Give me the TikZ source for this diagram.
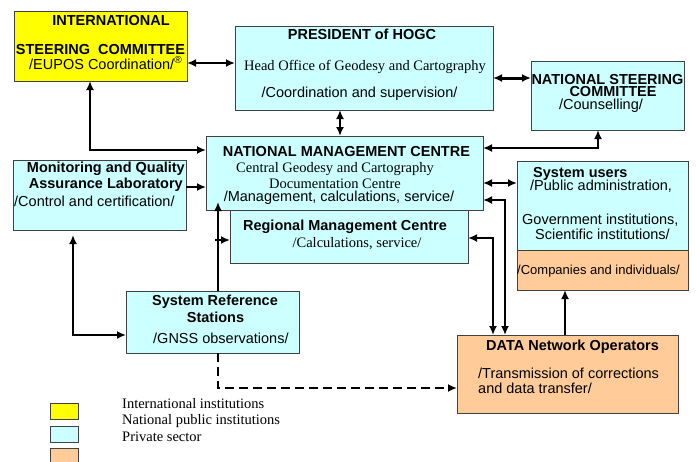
\documentclass[tikz,border=0pt]{standalone}
\usepackage{fontspec}
\setmainfont{Liberation Serif}
\setsansfont{Liberation Sans}
\usetikzlibrary{arrows.meta}
\definecolor{yel}{HTML}{FFFF00}
\definecolor{cya}{HTML}{CCFFFF}
\definecolor{ora}{HTML}{FFCC99}
\definecolor{brd}{HTML}{404040}
\newcommand\fsz{\fontsize{14.5pt}{17pt}\selectfont}
\begin{document}
\begin{tikzpicture}[x=1pt,y=-1pt,
 box/.style={draw=brd, line width=1pt, inner sep=0, outer sep=0, anchor=north west},
 bf/.style={inner sep=0, font=\sffamily\bfseries\fsz},
 sf/.style={inner sep=0, font=\sffamily\fsz},
 rm/.style={inner sep=0, font=\rmfamily\fsz},
 conn/.style={line width=1.8pt, black},
 arr/.style={conn, -{Latex[length=9pt,width=8pt]}},
 dbl/.style={conn, {Latex[length=9pt,width=8pt]}-{Latex[length=9pt,width=8pt]}},
]
\useasboundingbox (0,0) rectangle (696,461);

% boxes
\node[box, fill=yel, minimum width=173, minimum height=70] (intl) at (14,11) {};
\node[box, fill=cya, minimum width=258, minimum height=84] (pres) at (235,26) {};
\node[box, fill=cya, minimum width=153, minimum height=69] (nsc) at (531,61) {};
\node[box, fill=cya, minimum width=238, minimum height=63] (reg) at (230,200) {};
\node[box, fill=cya, minimum width=277, minimum height=74] (nmc) at (206,136) {};
\node[box, fill=cya, minimum width=173, minimum height=70] (mon) at (13,160) {};
\node[box, fill=cya, minimum width=171, minimum height=89] (su) at (517,161) {};
\node[box, fill=ora, minimum width=171, minimum height=40] (suo) at (517,250) {};
\node[box, fill=cya, minimum width=173, minimum height=62] (srs) at (126,291) {};
\node[box, fill=ora, minimum width=221, minimum height=78] (dno) at (457,335) {};
\node[box, fill=yel, minimum width=28, minimum height=16] (lg1) at (50,403) {};
\node[box, fill=cya, minimum width=28, minimum height=16] (lg2) at (50,426) {};
\node[box, fill=ora, minimum width=28, minimum height=16] (lg3) at (50,448) {};

% texts
\node[bf, anchor=base] (t1) at (111,25) {INTERNATIONAL};
\node[bf, anchor=base] (t2) at (100.5,54) {STEERING\ \ COMMITTEE};
\node[sf, anchor=base west] (t3) at (29,69) {/EUPOS Coordination/\textsuperscript{\textregistered}};

\node[bf, anchor=base] (t4) at (362,39) {PRESIDENT of HOGC};
\node[rm, anchor=base] (t5) at (365,70) {Head Office of Geodesy and Cartography};
\node[sf, anchor=base] (t6) at (359.5,97) {/Coordination and supervision/};

\node[bf, anchor=base] (t7) at (607.5,84) {NATIONAL STEERING};
\node[bf, anchor=base] (t8) at (613,96) {COMMITTEE};
\node[sf, anchor=base] (t9) at (601,109) {/Counselling/};

\node[bf, anchor=base] (t10) at (346.5,156) {NATIONAL MANAGEMENT CENTRE};
\node[rm, anchor=base] (t11) at (335,172) {Central Geodesy and Cartography};
\node[rm, anchor=base] (t12) at (335,188) {Documentation Centre};
\node[sf, anchor=base] (t13) at (339,201) {/Management, calculations, service/};

\node[bf, anchor=base] (t14) at (345,230) {Regional Management Centre};
\node[rm, anchor=base] (t15) at (357,247) {/Calculations, service/};

\node[bf, anchor=base east] (t16) at (185,172) {Monitoring and Quality};
\node[bf, anchor=base east] (t17) at (183,188) {Assurance Laboratory};
\node[sf, anchor=base west] (t18) at (14,206) {/Control and certification/};

\node[bf, anchor=base west] (t19) at (533,177) {System users};
\node[sf, anchor=base west] (t20) at (530,190) {/Public administration,};
\node[sf, anchor=base west] (t21) at (522,224) {Government institutions,};
\node[sf, anchor=base west] (t22) at (535,239) {Scientific institutions/};
\node[sf, anchor=base west, font=\sffamily\fontsize{13pt}{15pt}\selectfont] (t23) at (517,274) {/Companies and individuals/};

\node[bf, anchor=base] (t24) at (215,305) {System Reference};
\node[bf, anchor=base] (t25) at (215.5,322) {Stations};
\node[sf, anchor=base west] (t26) at (153,343) {/GNSS observations/};

\node[bf, anchor=base west] (t27) at (486,350) {DATA Network Operators};
\node[sf, anchor=base west] (t28) at (478,378) {/Transmission of corrections};
\node[sf, anchor=base west] (t29) at (478,393) {and data transfer/};

\node[rm, anchor=base west] (t30) at (122,408) {International institutions};
\node[rm, anchor=base west] (t31) at (122,424) {National public institutions};
\node[rm, anchor=base west] (t32) at (122,441) {Private sector};

% connector helper coordinates
\coordinate (r1) at (0,63);
\coordinate (c1) at (90,150);
\coordinate (c2) at (340,0);
\coordinate (r2) at (0,78);
\coordinate (c3) at (598,148);
\coordinate (r3) at (0,187);
\coordinate (c4) at (73,335);
\coordinate (c5) at (218,202);
\coordinate (c6) at (215,240);
\coordinate (c7) at (218,388);
\coordinate (r4) at (0,183);
\coordinate (c8) at (505,200);
\coordinate (c9) at (493,238);
\coordinate (c10) at (565,0);

% connectors
\draw[dbl] (intl.east |- r1) -- (pres.west |- r1);
\draw[dbl] (intl.south -| c1) -- (c1) -- (nmc.west |- c1);
\draw[dbl] (pres.south -| c2) -- (nmc.north -| c2);
\draw[dbl, line width=3pt] (pres.east |- r2) -- (nsc.west |- r2);
\draw[dbl] (nsc.south -| c3) -- (c3) -- (nmc.east |- c3);
\draw[arr] (mon.east |- r3) -- (nmc.west |- r3);
\draw[dbl, shorten <=5pt] (mon.south -| c4) -- (c4) -- (srs.west |- c4);
\draw[arr] (srs.north -| c5) -- (c5);
\draw[arr] (c6) -- (reg.west |- c6);
\draw[arr, dash pattern=on 9pt off 5pt] (srs.south -| c7) -- (c7) -- (dno.west |- c7);
\draw[dbl] (nmc.east |- r4) -- (su.west |- r4);
\draw[dbl] (dno.north -| c8) -- (c8) -- (nmc.east |- c8);
\draw[dbl] (dno.north -| c9) -- (c9) -- (reg.east |- c9);
\draw[arr] (dno.north -| c10) -- (suo.south -| c10);
\end{tikzpicture}
\end{document}
